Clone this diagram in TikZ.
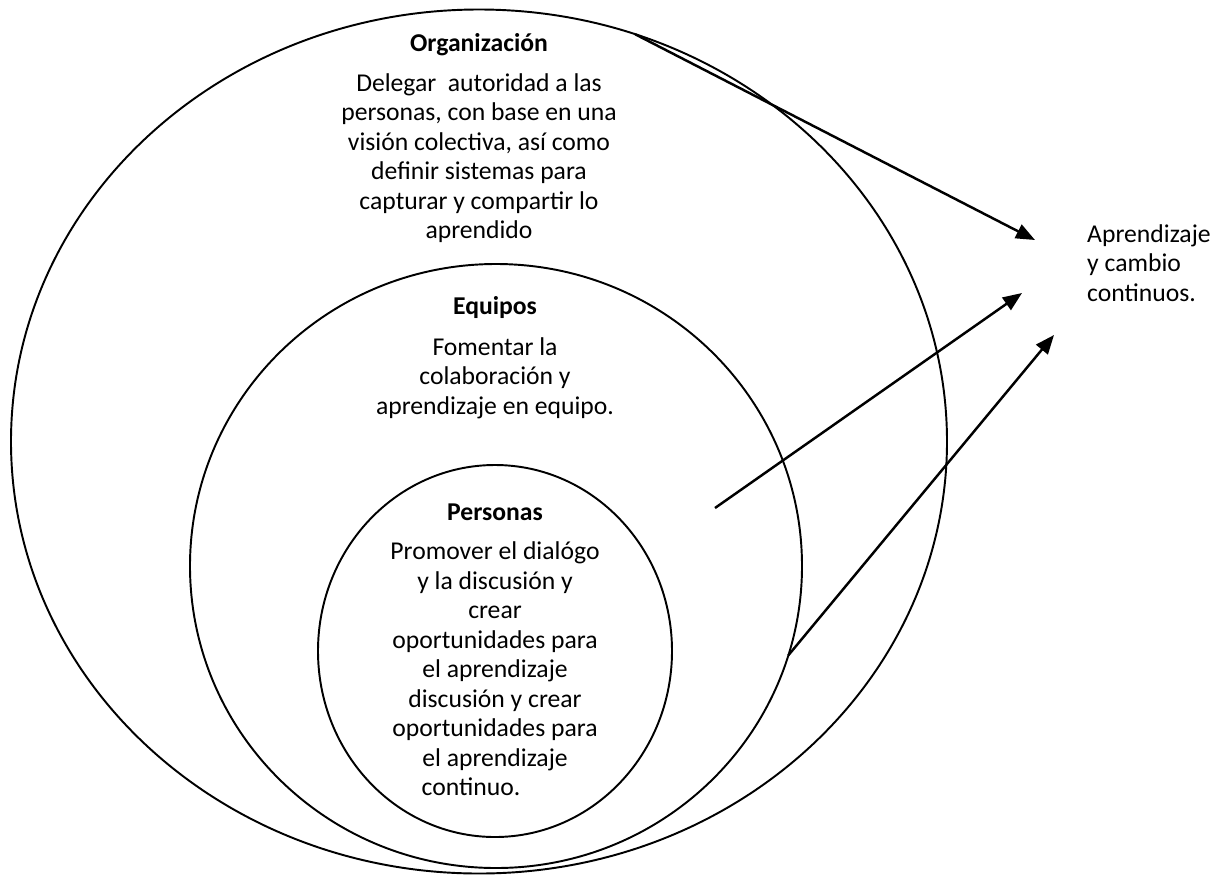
\documentclass[tikz,border=0pt]{standalone}
\usepackage{fontspec}
\setmainfont{Carlito}
\usetikzlibrary{arrows.meta,shapes.geometric}

\tikzset{
  ring/.style={draw, ellipse, line width=1.1pt, inner sep=0pt, outer sep=0pt},
  heading/.style={font=\bfseries\fontsize{14.6}{16.8}\selectfont},
  body/.style={font=\fontsize{14.6}{16.8}\selectfont, align=center},
  flow/.style={line width=1.4pt, -{Triangle[length=0.38cm,width=0.3cm]}}
}

\begin{document}
\begin{tikzpicture}[x=0.2mm, y=-0.2mm]
    \useasboundingbox (0,0) rectangle (1219,875);
    % the three levels
    \node[ring, minimum width=18.72cm, minimum height=17.28cm] (orga) at (479,441.5) {};
    \node[ring, minimum width=12.24cm, minimum height=12.08cm] (equi) at (496,566) {};
    \node[ring, minimum width=7.08cm, minimum height=7.44cm] (pers) at (495,651) {};
    % texts
    \node[heading] (orgaT) at (479,45) {Organización};
    \node[body] (orgaB) at (479,158) {Delegar\ \ autoridad a las\\personas, con base en una\\visión colectiva, así como\\definir sistemas para\\capturar y compartir lo\\aprendido};
    \node[heading] (equiT) at (495,308) {Equipos};
    \node[body] (equiB) at (495,378) {Fomentar la\\colaboración y\\aprendizaje en equipo.};
    \node[heading] (persT) at (495,512) {Personas};
    \node[body] (persB) at (495,669) {Promover el dialógo\\y la discusión y\\crear\\oportunidades para\\el aprendizaje\\discusión y crear\\oportunidades para\\el aprendizaje\\continuo.\hspace*{0.96cm}};
    \node[body, align=left, anchor=west] (result) at (1081,263) {Aprendizaje\\y cambio\\continuos.};
    % arrows
    \coordinate (s2) at (715,508);
    \coordinate (t1) at (1035,240);
    \coordinate (t2) at (1022,293);
    \coordinate (t3) at (1054,335);
    \draw[flow] (orga.69) -- (t1);
    \draw[flow] (s2) -- (t2);
    \draw[flow] (equi.-17.5) -- (t3);
\end{tikzpicture}
\end{document}
